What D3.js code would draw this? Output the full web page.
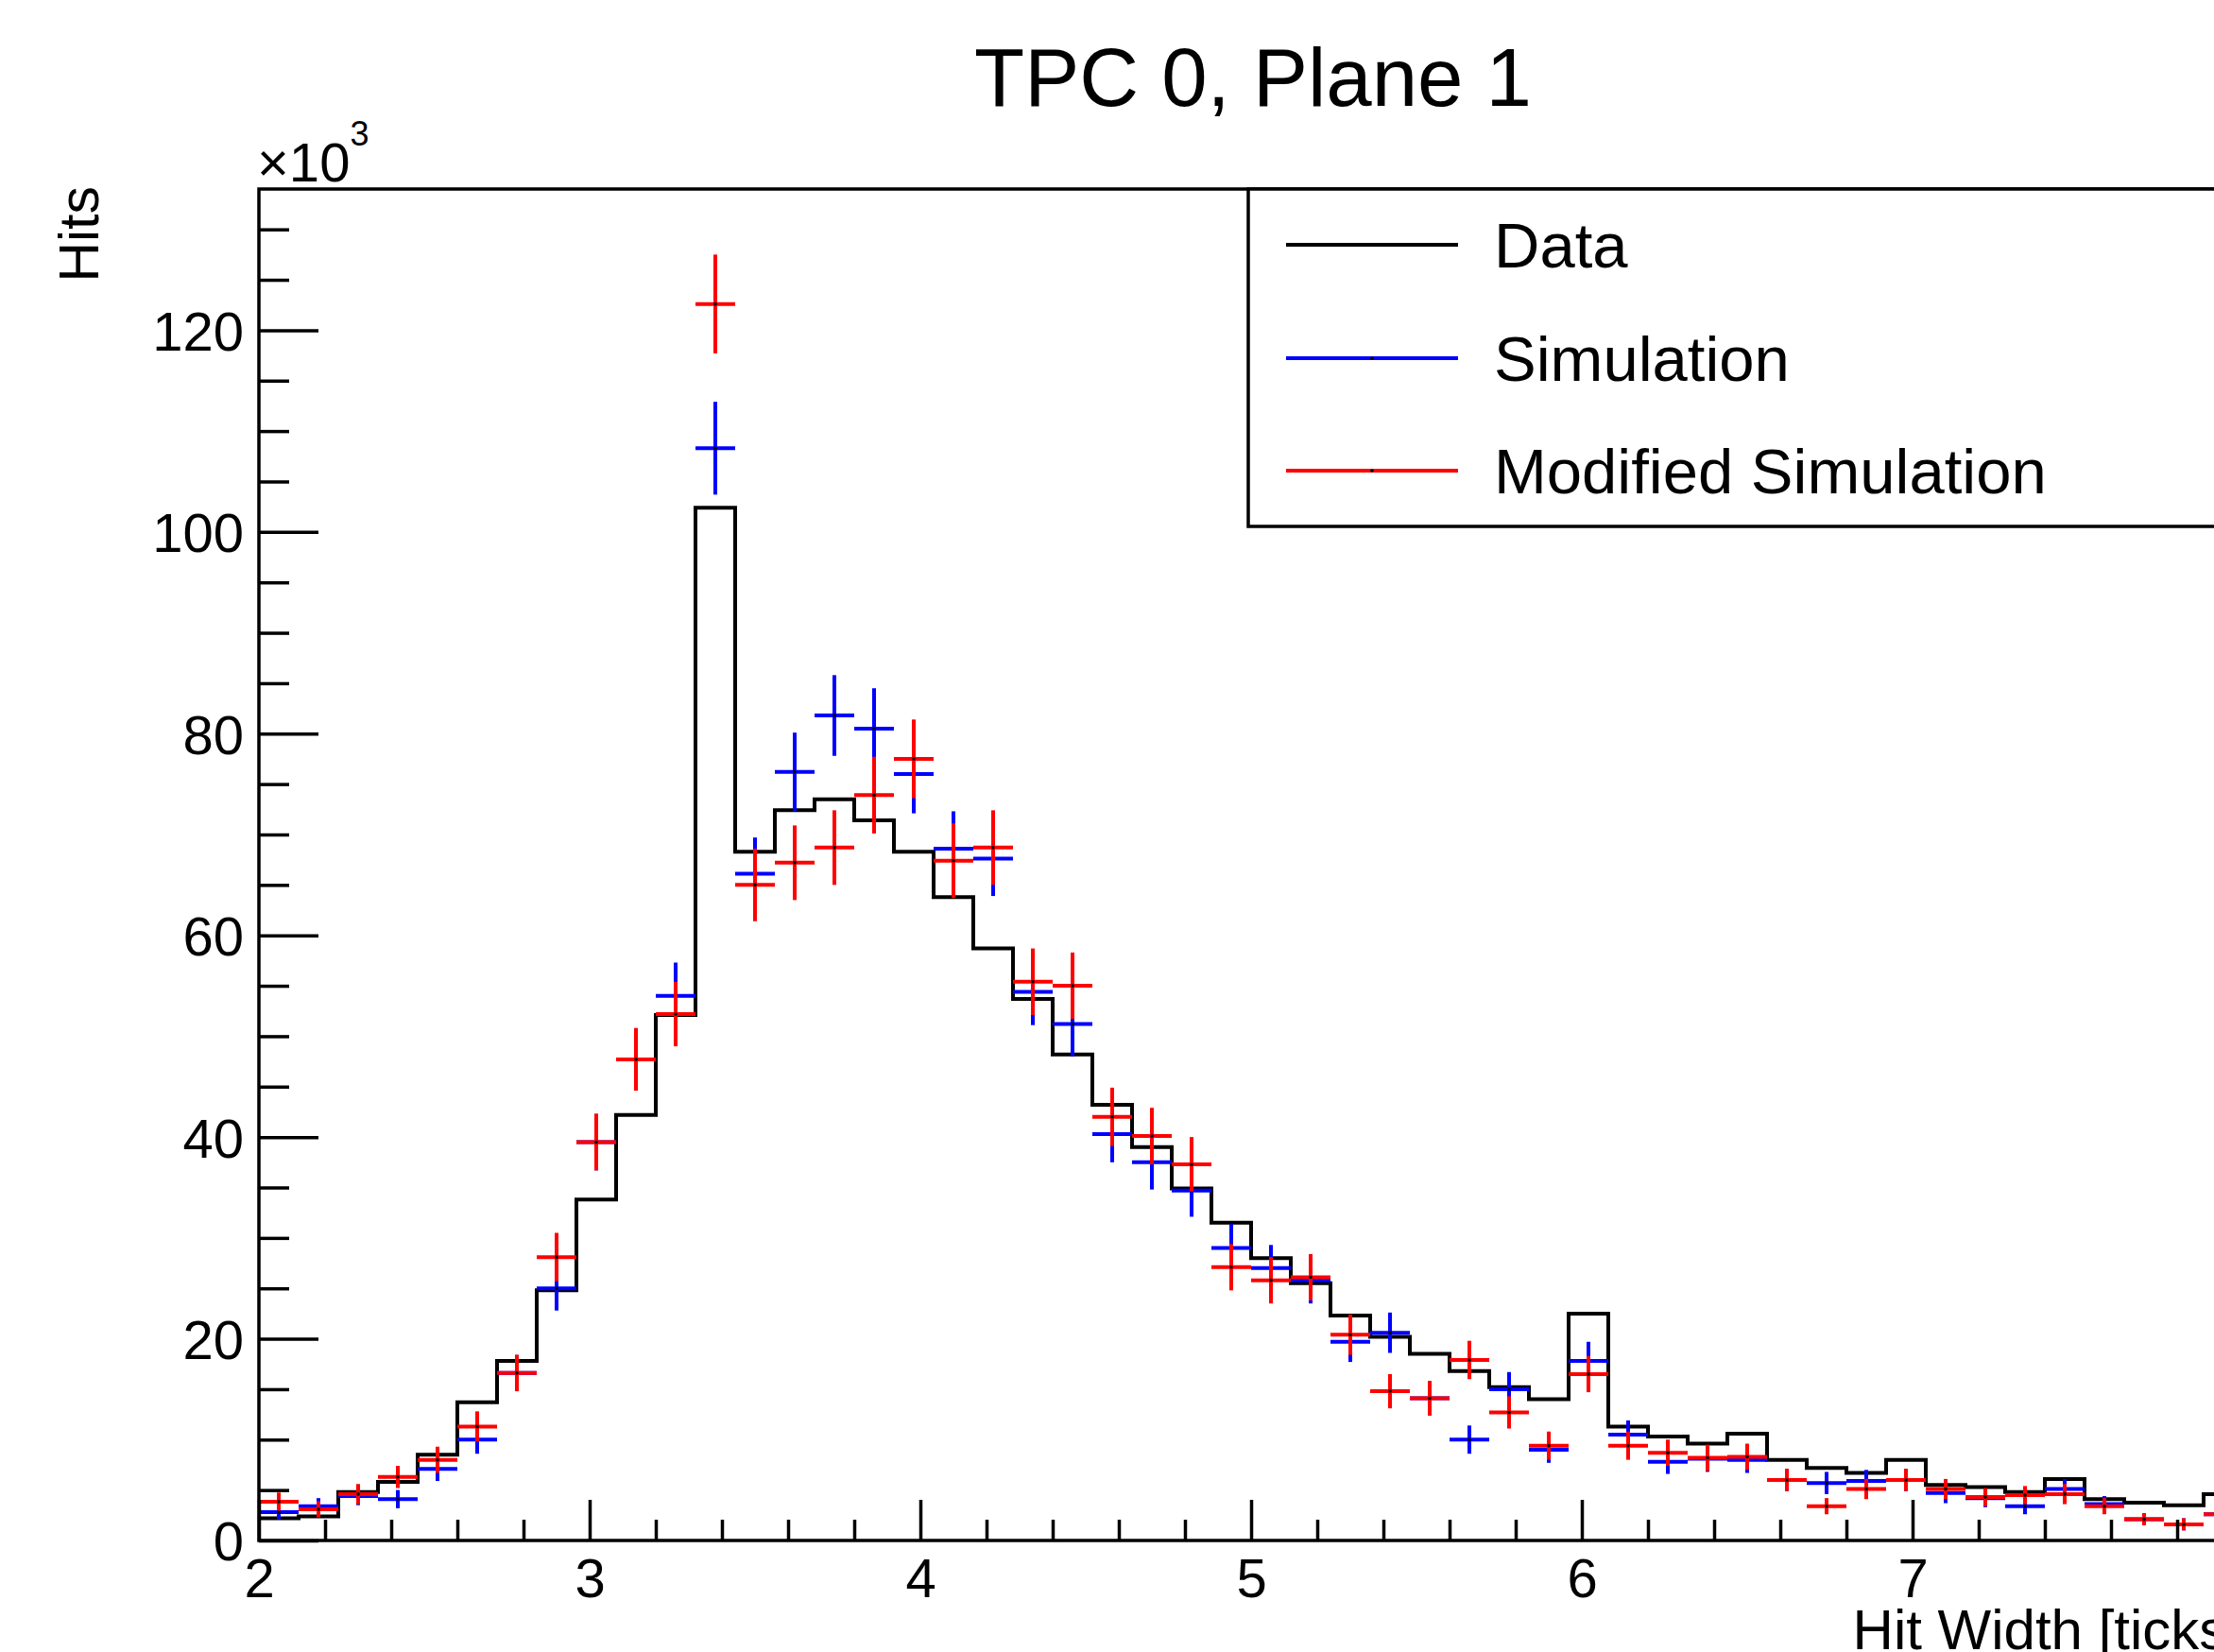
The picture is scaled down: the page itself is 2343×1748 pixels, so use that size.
<!DOCTYPE html>
<html>
<head>
<meta charset="utf-8">
<script src="https://cdn.jsdelivr.net/npm/d3@7"></script>
<style>
  body { margin: 0; background: #fff; }
  svg text { font-family: "Liberation Sans", Arial, Helvetica, sans-serif; fill: #000; }
</style>
</head>
<body>
<div id="chart"></div>
<script>
// lower edge of each bin (hit width in ticks), bins are 0.12 wide
const binLow = [2.00, 2.12, 2.24, 2.36, 2.48, 2.60, 2.72, 2.84, 2.96, 3.08,
                3.20, 3.32, 3.44, 3.56, 3.68, 3.80, 3.92, 4.04, 4.16, 4.28,
                4.40, 4.52, 4.64, 4.76, 4.88, 5.00, 5.12, 5.24, 5.36, 5.48,
                5.60, 5.72, 5.84, 5.96, 6.08, 6.20, 6.32, 6.44, 6.56, 6.68,
                6.80, 6.92, 7.04, 7.16, 7.28, 7.40, 7.52, 7.64, 7.76, 7.88];
const binWidth = 0.12;

// hits, in units of 10^3
const dataHits = [2.2, 2.4, 4.8, 5.8, 8.5, 13.7, 17.8, 24.8, 33.8, 42.2,
                  52.1, 102.4, 68.3, 72.4, 73.5, 71.4, 68.3, 63.8, 58.7, 53.7,
                  48.2, 43.2, 39.0, 34.9, 31.5, 28.0, 25.5, 22.3, 20.2, 18.5,
                  16.8, 15.2, 14.0, 22.5, 11.3, 10.3, 9.6, 10.6, 8.0, 7.2,
                  6.7, 8.0, 5.5, 5.3, 4.8, 6.1, 4.1, 3.75, 3.5, 4.6];

const simHits = [2.8, 3.4, 4.4, 4.1, 7.1, 10.0, 16.6, 25.0, 39.5, 47.7,
                 54.0, 108.3, 66.1, 76.2, 81.8, 80.5, 76.0, 68.6, 67.6, 54.4,
                 51.2, 40.3, 37.5, 34.7, 29.0, 27.0, 25.8, 19.7, 20.6, 14.1,
                 10.0, 15.0, 9.0, 17.8, 10.5, 7.8, 8.1, 8.0, 6.0, 5.7,
                 5.9, 6.0, 4.7, 4.2, 3.4, 5.1, 3.6, 2.1, 1.6, 2.6];
const simErr = [0.7, 0.8, 0.9, 0.9, 1.2, 1.4, 1.8, 2.2, 2.8, 3.1,
                3.3, 4.6, 3.6, 3.9, 4.0, 4.0, 3.9, 3.7, 3.7, 3.3,
                3.2, 2.8, 2.7, 2.6, 2.4, 2.3, 2.3, 2.0, 2.0, 1.7,
                1.4, 1.7, 1.3, 1.9, 1.4, 1.2, 1.3, 1.3, 1.1, 1.1,
                1.1, 1.1, 1.0, 0.9, 0.8, 1.0, 0.8, 0.6, 0.6, 0.7];

const modHits = [3.85, 3.1, 4.6, 6.3, 8.0, 11.3, 16.6, 28.1, 39.5, 47.7,
                 52.2, 122.6, 65.0, 67.2, 68.7, 73.9, 77.5, 67.4, 68.7, 55.4,
                 55.0, 42.0, 40.1, 37.3, 27.1, 25.8, 26.1, 20.4, 14.8, 14.1,
                 17.9, 12.7, 9.4, 16.5, 9.4, 8.7, 8.2, 8.3, 6.0, 3.4,
                 5.1, 6.0, 5.1, 4.3, 4.5, 4.6, 3.4, 2.1, 1.6, 2.6];
const modErr = [0.9, 0.8, 1.0, 1.1, 1.3, 1.5, 1.8, 2.4, 2.8, 3.1,
                3.2, 4.9, 3.6, 3.7, 3.7, 3.8, 3.9, 3.7, 3.7, 3.3,
                3.3, 2.9, 2.8, 2.7, 2.3, 2.3, 2.3, 2.0, 1.7, 1.7,
                1.9, 1.6, 1.4, 1.8, 1.4, 1.3, 1.3, 1.3, 1.1, 0.8,
                1.0, 1.1, 1.0, 0.9, 0.9, 1.0, 0.8, 0.6, 0.6, 0.7];

const yMajor = [0, 20, 40, 60, 80, 100, 120];
const xMajor = [2, 3, 4, 5, 6, 7, 8];
const legendNames = ['Data', 'Simulation', 'Modified Simulation'];
const legendColors = ['#000000', '#0000ff', '#ff0000'];

const width = 2343;
const height = 1748;

const svg = d3.select('#chart').append('svg')
    .attr('width', width)
    .attr('height', height);

svg.append('rect').attr('width', width).attr('height', height).attr('fill', '#fff');

// plot frame runs past the right edge of the picture (x = 8 is off-canvas)
const x = d3.scaleLinear().domain([2, 8]).range([274, 2374]);
const y = d3.scaleLinear().domain([0, 134]).range([1630, 200]);

// Data histogram as a step outline
let histPts = binLow.map((b, i) => [b, dataHits[i]]);
histPts.push([binLow[binLow.length - 1] + binWidth, dataHits[dataHits.length - 1]]);

const step = d3.line()
    .x(d => x(d[0]))
    .y(d => y(d[1]))
    .curve(d3.curveStepAfter);

svg.append('path')
    .datum(histPts)
    .attr('d', step)
    .attr('fill', 'none')
    .attr('stroke', '#000')
    .attr('stroke-width', 4);

// error-bar crosses for the two simulations
function drawCrosses(vals, errs, color, cls) {
    let g = svg.append('g')
        .attr('stroke', color)
        .attr('stroke-width', 4);

    g.selectAll('line.h-' + cls)
        .data(vals)
        .enter()
        .append('line')
        .attr('class', 'h-' + cls)
        .attr('x1', (d, i) => x(binLow[i]))
        .attr('x2', (d, i) => x(binLow[i] + binWidth))
        .attr('y1', d => y(d))
        .attr('y2', d => y(d));

    g.selectAll('line.v-' + cls)
        .data(vals)
        .enter()
        .append('line')
        .attr('class', 'v-' + cls)
        .attr('x1', (d, i) => x(binLow[i] + binWidth / 2))
        .attr('x2', (d, i) => x(binLow[i] + binWidth / 2))
        .attr('y1', (d, i) => y(d - errs[i]))
        .attr('y2', (d, i) => y(d + errs[i]));

    // tiny black markers at the bin centre
    svg.append('g').selectAll('circle.m-' + cls)
        .data(vals)
        .enter()
        .append('circle')
        .attr('class', 'm-' + cls)
        .attr('cx', (d, i) => x(binLow[i] + binWidth / 2))
        .attr('cy', d => y(d))
        .attr('r', 1.8)
        .attr('fill', '#000');
}

drawCrosses(simHits, simErr, '#0000ff', 'sim');
drawCrosses(modHits, modErr, '#ff0000', 'mod');

// frame
svg.append('rect')
    .attr('x', x(2)).attr('y', y(134))
    .attr('width', x(8) - x(2)).attr('height', y(0) - y(134))
    .attr('fill', 'none')
    .attr('stroke', '#000')
    .attr('stroke-width', 3.5);

// y axis: major ticks with labels, minor ticks every 5
let yAx = svg.append('g')
    .attr('transform', `translate(${x(2)},0)`)
    .call(d3.axisLeft(y).tickValues(yMajor).tickSize(-63).tickPadding(16).tickSizeOuter(0));
yAx.select('.domain').remove();
yAx.attr('font-family', null).attr('font-size', null);
yAx.selectAll('line').attr('stroke-width', 3.5);
yAx.selectAll('text').style('font-size', '58px').attr('dy', '0.36em');

let yMinor = d3.range(5, 135, 5).filter(v => v % 20 !== 0);
let yAxMinor = svg.append('g')
    .attr('transform', `translate(${x(2)},0)`)
    .call(d3.axisLeft(y).tickValues(yMinor).tickSize(-32).tickFormat('').tickSizeOuter(0));
yAxMinor.select('.domain').remove();
yAxMinor.selectAll('line').attr('stroke-width', 3.5);

// x axis
let xAx = svg.append('g')
    .attr('transform', `translate(0,${y(0)})`)
    .call(d3.axisBottom(x).tickValues(xMajor).tickSize(-43).tickPadding(19).tickFormat(d3.format('d')).tickSizeOuter(0));
xAx.select('.domain').remove();
xAx.attr('font-family', null).attr('font-size', null);
xAx.selectAll('line').attr('stroke-width', 3.5);
xAx.selectAll('text').style('font-size', '58px');

let xMinor = d3.range(2.2, 8, 0.2).filter(v => Math.abs(v - Math.round(v)) > 0.01);
let xAxMinor = svg.append('g')
    .attr('transform', `translate(0,${y(0)})`)
    .call(d3.axisBottom(x).tickValues(xMinor).tickSize(-22).tickFormat('').tickSizeOuter(0));
xAxMinor.select('.domain').remove();
xAxMinor.selectAll('line').attr('stroke-width', 3.5);

// exponent label
let expo = svg.append('text')
    .attr('x', 272)
    .attr('y', 192)
    .style('font-size', '58px');
expo.append('tspan').text('\u00d710');
expo.append('tspan').attr('dy', -38).style('font-size', '36px').text('3');

// axis titles
svg.append('text')
    .attr('transform', 'translate(104,197) rotate(-90)')
    .attr('text-anchor', 'end')
    .style('font-size', '59px')
    .text('Hits');

svg.append('text')
    .attr('x', x(8))
    .attr('y', 1745)
    .attr('text-anchor', 'end')
    .style('font-size', '60px')
    .text('Hit Width [ticks]');

// title
svg.append('text')
    .attr('x', 1326)
    .attr('y', 112)
    .attr('text-anchor', 'middle')
    .style('font-size', '87px')
    .text('TPC 0, Plane 1');

// legend
svg.append('rect')
    .attr('x', 1321).attr('y', 200)
    .attr('width', 1100).attr('height', 357)
    .attr('fill', '#fff')
    .attr('stroke', '#000')
    .attr('stroke-width', 3.5);

const legendY = [259, 379, 498];

let lg = svg.append('g');
lg.selectAll('line')
    .data(legendNames)
    .enter()
    .append('line')
    .attr('x1', 1361).attr('x2', 1543)
    .attr('y1', (d, i) => legendY[i]).attr('y2', (d, i) => legendY[i])
    .attr('stroke', (d, i) => legendColors[i])
    .attr('stroke-width', 4);

lg.selectAll('circle')
    .data(legendNames)
    .enter()
    .append('circle')
    .attr('cx', 1452).attr('cy', (d, i) => legendY[i])
    .attr('r', 1.8).attr('fill', '#000');

lg.selectAll('text')
    .data(legendNames)
    .enter()
    .append('text')
    .attr('x', 1581)
    .attr('y', (d, i) => legendY[i] + 24)
    .style('font-size', '67px')
    .text(d => d);
</script>
</body>
</html>
